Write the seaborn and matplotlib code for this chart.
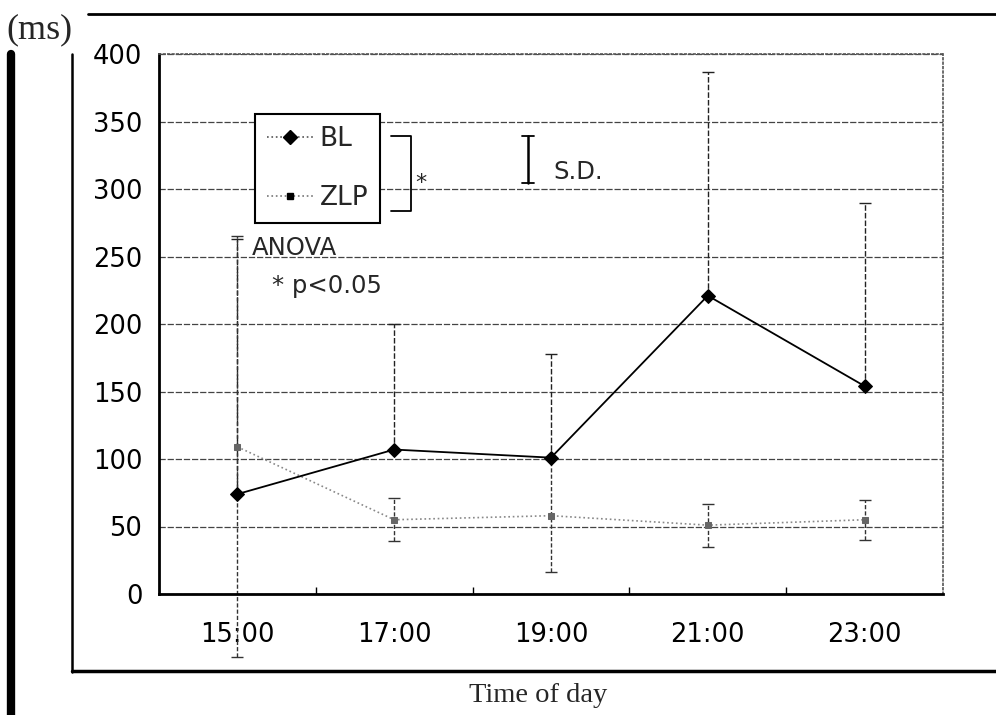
import matplotlib
matplotlib.use("Agg")
import matplotlib.pyplot as plt
from matplotlib.lines import Line2D
import numpy as np
import pandas as pd
import seaborn as sns

# Sampling times and latencies (ms), mean and standard deviation per group
times = ["15:00", "17:00", "19:00", "21:00", "23:00"]
bl_mean = [74, 107, 101, 221, 154]
bl_sd = [189, 93, 77, 166, 136]
zlp_mean = [109, 55, 58, 51, 55]
zlp_sd = [156, 16, 42, 16, 15]
y_ticks = [0, 50, 100, 150, 200, 250, 300, 350, 400]

sns.set_theme(style="white")
plt.rcParams["font.family"] = ["DejaVu Sans"]

W, H = 996, 715
fig = plt.figure(figsize=(W / 100, H / 100), dpi=100)


def fx(x):
    return x / W


def fy(y):
    return 1 - y / H


ax = fig.add_axes([fx(159), fy(594), (943 - 159) / W, (594 - 54) / H])

pos = np.arange(len(times))
df = pd.DataFrame({"pos": pos, "BL": bl_mean, "ZLP": zlp_mean})

# S.D. bars: upper only for BL, both directions for ZLP
eb1 = ax.errorbar(pos, bl_mean, yerr=[np.zeros(len(pos)), bl_sd], fmt="none",
                  ecolor="#222222", elinewidth=1.0, capsize=4, capthick=1.0, zorder=2)
eb1[2][0].set_linestyle((0, (4, 1.5)))
eb2 = ax.errorbar(pos, zlp_mean, yerr=zlp_sd, fmt="none",
                  ecolor="#333333", elinewidth=1.0, capsize=4, capthick=1.0, zorder=2)
eb2[2][0].set_linestyle((0, (3, 1.5)))
for art in list(eb2[1]) + list(eb2[2]):
    art.set_clip_on(False)

sns.lineplot(data=df, x="pos", y="ZLP", ax=ax, color="#888888", linestyle=":",
             linewidth=1.2, marker="s", markersize=5, markerfacecolor="#666666",
             markeredgecolor="#666666", zorder=3)
sns.lineplot(data=df, x="pos", y="BL", ax=ax, color="black", linewidth=1.3,
             marker="D", markersize=7, markeredgecolor="black", zorder=4)

ax.set_xlim(-0.5, len(times) - 0.5)
ax.set_ylim(0, 400)
ax.set_xlabel("")
ax.set_ylabel("")
ax.set_xticks(pos, times)
ax.set_xticks(pos[:-1] + 0.5, minor=True)
ax.set_yticks(y_ticks)
ax.tick_params(axis="x", which="major", length=0, pad=20, labelsize=18.5, colors="black")
ax.tick_params(axis="x", which="minor", direction="in", length=5, width=1, color="black", bottom=True)
ax.tick_params(axis="y", length=0, pad=12, labelsize=18.5, colors="black")

ax.yaxis.grid(True, color="#444444", linestyle=(0, (5, 1.5)), linewidth=0.9)
ax.set_axisbelow(True)
for side in ("left", "bottom"):
    ax.spines[side].set_color("black")
    ax.spines[side].set_linewidth(2)
for side in ("top", "right"):
    ax.spines[side].set_color("#555555")
    ax.spines[side].set_linestyle(":")
    ax.spines[side].set_linewidth(1.2)

handles = [
    Line2D([], [], color="#555555", linestyle=":", linewidth=1.2, marker="D",
           markersize=7, markerfacecolor="black", markeredgecolor="black"),
    Line2D([], [], color="#777777", linestyle=":", linewidth=1.2, marker="s",
           markersize=5, markerfacecolor="black", markeredgecolor="black"),
]
leg = ax.legend(handles, ["BL", "ZLP"], loc="upper left",
                bbox_to_anchor=(fx(255), fy(114)), bbox_transform=fig.transFigure,
                frameon=True, fancybox=False, edgecolor="black", framealpha=1,
                fontsize=19, handlelength=1.75, handletextpad=0.25,
                labelspacing=1.25, borderpad=0.45, borderaxespad=0)
leg.get_frame().set_linewidth(1.5)


def seg(xs, ys, **kw):
    fig.add_artist(Line2D([fx(v) for v in xs], [fy(v) for v in ys], **kw))


# significance bracket beside the legend
seg([391, 411, 411, 391], [136, 136, 211, 211], color="black", lw=1.3)
fig.text(fx(421), fy(183), "*", fontsize=16, ha="center", va="center")

# S.D. key
seg([528, 528], [136, 183], color="black", lw=1.8)
seg([522, 534], [136, 136], color="black", lw=1.3)
seg([522, 534], [183, 183], color="black", lw=1.3)
fig.text(fx(553), fy(172), "S.D.", fontsize=17.5, ha="left", va="center")

fig.text(fx(252), fy(248), "ANOVA", fontsize=17.5, ha="left", va="center")
fig.text(fx(272), fy(286), "* p<0.05", fontsize=17.5, ha="left", va="center")

# surrounding frame
seg([88, 996], [14, 14], color="black", lw=2)
seg([72, 72], [54, 672], color="black", lw=1.8)
seg([72, 996], [671, 671], color="black", lw=2.5)
seg([11, 11], [54, 715], color="black", lw=6)

fig.text(fx(6), fy(30), "(ms)", family="Liberation Serif", fontsize=26,
         ha="left", va="center")
fig.text(fx(538), fy(696), "Time of day", family="Liberation Serif", fontsize=20.5,
         ha="center", va="center")

fig.savefig("out.png", dpi=100, facecolor="white")
